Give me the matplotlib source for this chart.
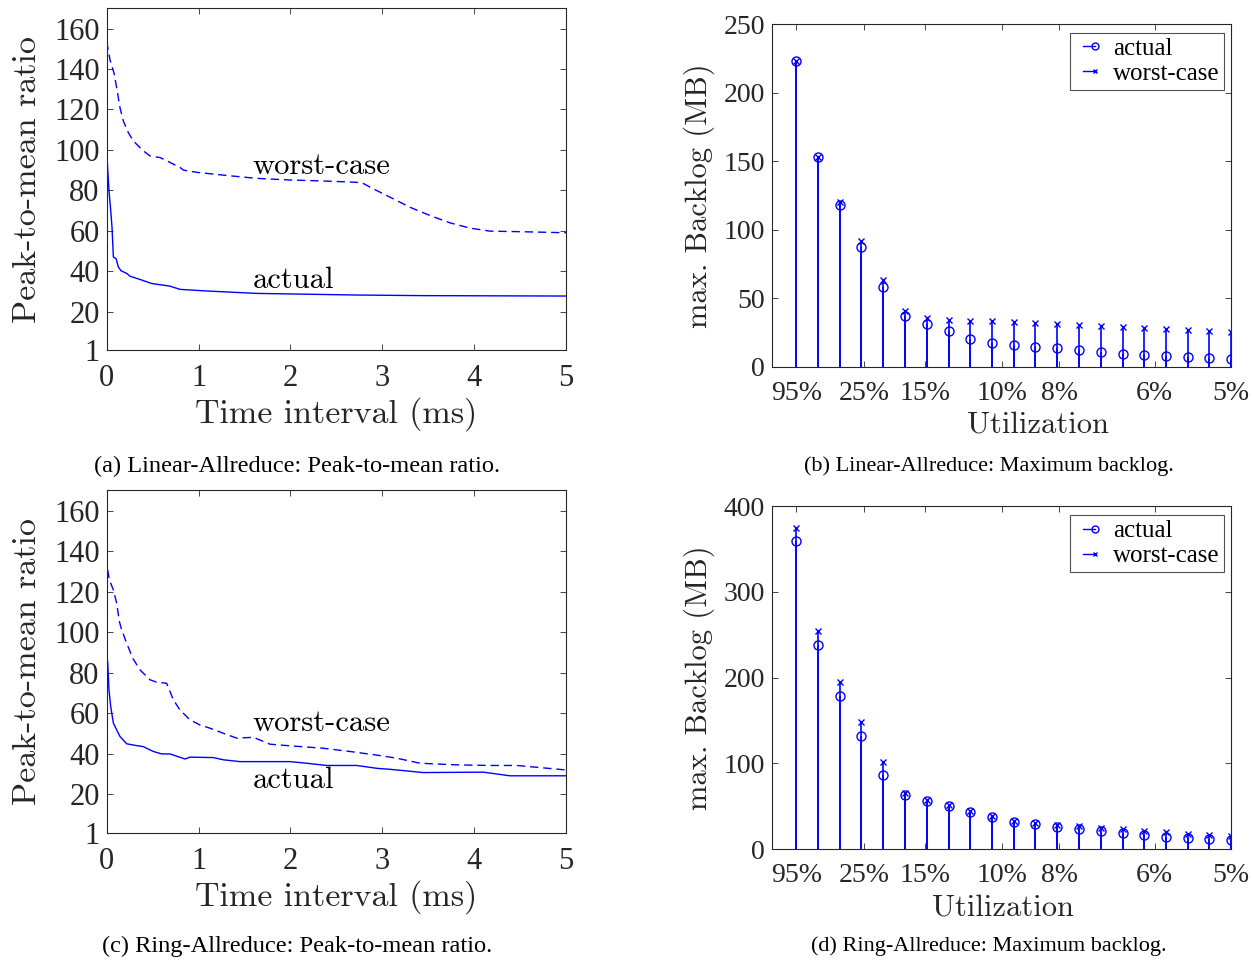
import matplotlib
matplotlib.use("Agg")
import matplotlib.pyplot as plt
import numpy as np
from matplotlib.lines import Line2D
from matplotlib.legend_handler import HandlerLine2D

plt.rcParams['font.family'] = ['Liberation Serif', 'DejaVu Serif']

# ---- peak-to-mean ratio, Linear-Allreduce
lin_worst_t = [0.0, 0.036, 0.08, 0.109, 0.145, 0.181, 0.236, 0.29, 0.399, 0.472, 0.581, 0.689,
               0.798, 0.835, 0.98, 1.27, 1.633, 1.996, 2.359, 2.649, 2.776, 2.903, 3.084, 3.302,
               3.52, 3.737, 3.955, 4.173, 4.536, 5.0]
lin_worst_v = [153.6, 144.6, 138, 130.7, 120.8, 114.3, 108.5, 104.4, 99.5, 97, 96.2, 93.8,
               91.3, 90, 88.9, 87.5, 85.9, 85.1, 84.6, 84.1, 83.8, 80.7, 76.6, 71.6,
               67.5, 63.9, 61.3, 59.8, 59.5, 59.0]
lin_actual_t = [0.007, 0.025, 0.044, 0.058, 0.073, 0.102, 0.127, 0.156, 0.218, 0.254, 0.363,
                0.49, 0.689, 0.798, 1.089, 1.633, 2.721, 3.447, 5.0]
lin_actual_v = [93.8, 79.8, 70, 61.8, 47, 46.2, 42.1, 40.2, 38.9, 37.5, 35.9,
                33.9, 32.6, 31, 30.2, 29, 28.2, 27.9, 27.7]

# ---- peak-to-mean ratio, Ring-Allreduce
ring_worst_t = [0.011, 0.029, 0.073, 0.109, 0.138, 0.163, 0.218, 0.283, 0.363, 0.472, 0.544,
                0.653, 0.726, 0.798, 0.907, 1.016, 1.125, 1.27, 1.415, 1.597, 1.778, 1.996,
                2.359, 2.649, 2.975, 3.157, 3.411, 3.81, 4.173, 4.463, 5.0]
ring_worst_v = [130.8, 125.8, 120.9, 114.3, 105.3, 101.2, 94.6, 87.2, 81.4, 76.5, 75.3,
                74.8, 66.6, 61.6, 56.7, 54.2, 52.6, 50.1, 47.7, 48.1, 44.7, 43.9,
                42.7, 41.1, 39.1, 37.8, 35.3, 34.5, 34.2, 34.2, 32.0]
ring_actual_t = [0.011, 0.025, 0.044, 0.073, 0.145, 0.218, 0.327, 0.399, 0.508, 0.599, 0.689,
                 0.853, 0.907, 1.161, 1.27, 1.451, 1.996, 2.177, 2.395, 2.721, 2.939, 3.084,
                 3.447, 4.1, 4.39, 5.0]
ring_actual_v = [85.5, 71.5, 63.3, 55.1, 48.5, 44.9, 44.0, 43.5, 41.1, 39.9, 39.9,
                 37.4, 38.3, 38.1, 37.0, 36.1, 36.1, 35.3, 34.2, 34.2, 32.8, 32.3,
                 30.7, 30.9, 29.1, 29.1]

# ---- maximum backlog vs utilization
utilization = [0.95, 0.5, 0.3393, 0.2568, 0.2065, 0.1727, 0.1484, 0.1301, 0.1159, 0.1044,
               0.0950, 0.0872, 0.0805, 0.0748, 0.0699, 0.0655, 0.0617, 0.0583, 0.0552,
               0.0525, 0.05]
lin_backlog_actual = [223, 153, 118.2, 87.6, 58.3, 36.7, 31.1, 25.7, 20.4, 17.0, 15.8,
                      14.6, 13.3, 11.9, 10.7, 9.5, 8.3, 7.5, 6.8, 6.1, 5.3]
lin_backlog_worst = [223, 153, 120.1, 91.7, 63.6, 40.3, 35.9, 34.2, 33.7, 33.0, 32.3,
                     31.6, 30.8, 30.3, 29.6, 28.9, 28.2, 27.4, 26.7, 26.2, 25.5]
ring_backlog_actual = [359.1, 238.5, 178.6, 132.3, 86.0, 62.6, 56.4, 50.2, 43.6, 37.4, 31.9,
                       29.2, 26.1, 23.3, 20.6, 18.3, 16.0, 14.4, 13.2, 11.7, 10.5]
ring_backlog_worst = [374.3, 254.5, 194.6, 147.9, 101.2, 65.0, 57.6, 51.0, 44.4, 38.1, 32.7,
                      30.4, 28.4, 26.8, 24.9, 23.0, 21.4, 19.5, 17.9, 16.7, 15.6]
util_ticks = [0.95, 0.25, 0.15, 0.10, 0.08, 0.06, 0.05]
util_ticklabels = ['95%', '25%', '15%', '10%', '8%', '6%', '5%']

ratio_ticks = [1, 20, 40, 60, 80, 100, 120, 140, 160]

BLUE = (0, 0, 1)
GREY = '#262626'
CM = 'cmr10'


class StemLegendHandler(HandlerLine2D):
    # marker only at the right end of the legend line, like MATLAB stem legends
    def create_artists(self, *args, **kwargs):
        artists = super().create_artists(*args, **kwargs)
        for a in artists:
            a.set_markevery([len(a.get_xdata()) - 1])
        return artists


def style_axes(ax, size, xpad):
    for s in ax.spines.values():
        s.set_color(GREY)
        s.set_linewidth(0.8)
    ax.tick_params(direction='in', top=True, right=True, length=4, width=0.6,
                   colors=GREY, labelsize=size, labelcolor=GREY)
    ax.tick_params(axis='x', pad=xpad)
    ax.tick_params(axis='y', pad=5)


def ratio_panel(ax, t_w, v_w, t_a, v_a, worst_xy, actual_xy):
    ax.plot(t_w, v_w, color=BLUE, lw=1.0, ls=(0, (6, 3.5)))
    ax.plot(t_a, v_a, color=BLUE, lw=1.0)
    ax.set_xlim(0, 5)
    ax.set_ylim(1, 170)
    ax.set_yticks(ratio_ticks)
    ax.set_xticks(range(6))
    ax.text(*worst_xy, 'worst-case', fontfamily=CM, fontsize=22, color='black')
    ax.text(*actual_xy, 'actual', fontfamily=CM, fontsize=22, color='black')
    ax.set_xlabel('Time interval (ms)', fontfamily=CM, fontsize=24.5, color=GREY, labelpad=3)
    ax.set_ylabel('Peak-to-mean ratio', fontfamily=CM, fontsize=24.5, color=GREY, labelpad=9)
    style_axes(ax, 22, 10)


def backlog_panel(ax, actual, worst, ymax, xlabel_x):
    x = 1 / np.array(utilization)
    mk, st, bl = ax.stem(x, worst, linefmt='-', markerfmt='x', basefmt=' ')
    plt.setp(st, color=BLUE, lw=1.2)
    plt.setp(mk, color=BLUE, markersize=4, markeredgewidth=1.0)
    mk, st, bl = ax.stem(x, actual, linefmt='-', markerfmt='o', basefmt=' ')
    plt.setp(st, color=BLUE, lw=1.2)
    plt.setp(mk, color=BLUE, markerfacecolor='none', markersize=6.5, markeredgewidth=1.0)
    ax.set_xlim(0, 20)
    ax.set_ylim(0, ymax)
    ax.set_xticks(1 / np.array(util_ticks))
    ax.set_xticklabels(util_ticklabels)
    ax.set_xlabel('Utilization', fontfamily=CM, fontsize=22, color=GREY)
    ax.xaxis.set_label_coords(xlabel_x, -0.13)
    ax.set_ylabel('max. Backlog (MB)', fontfamily=CM, fontsize=22, color=GREY, labelpad=6)
    style_axes(ax, 20, 10)
    handles = [
        Line2D([], [], color=BLUE, lw=1.0, marker='o', markerfacecolor='none', markersize=5),
        Line2D([], [], color=BLUE, lw=1.0, marker='x', markersize=3.5),
    ]
    leg = ax.legend(handles, ['actual', 'worst-case'], loc='upper right', numpoints=2,
                    handler_map={h: StemLegendHandler() for h in handles},
                    fontsize=18, handlelength=1.1, handletextpad=0.4, borderpad=0.2,
                    labelspacing=0.1, fancybox=False, edgecolor=GREY,
                    bbox_to_anchor=(0.985, 0.975), borderaxespad=0)
    leg.get_frame().set_linewidth(0.8)


fig = plt.figure(figsize=(12.52, 9.6), dpi=100)
ax_a = fig.add_axes([0.0852, 0.6354, 0.3669, 0.3559])
ax_b = fig.add_axes([0.6166, 0.6180, 0.3669, 0.3570])
ax_c = fig.add_axes([0.0852, 0.1326, 0.3669, 0.3565])
ax_d = fig.add_axes([0.6166, 0.1156, 0.3669, 0.3570])

ratio_panel(ax_a, lin_worst_t, lin_worst_v, lin_actual_t, lin_actual_v, (1.59, 88), (1.59, 31.5))
ratio_panel(ax_c, ring_worst_t, ring_worst_v, ring_actual_t, ring_actual_v, (1.59, 51.4), (1.59, 23.3))
backlog_panel(ax_b, lin_backlog_actual, lin_backlog_worst, 250, 0.58)
backlog_panel(ax_d, ring_backlog_actual, ring_backlog_worst, 400, 0.502)

caps = [(297, 466, 17.6, '(a) Linear-Allreduce: Peak-to-mean ratio.'),
        (989, 466, 16, '(b) Linear-Allreduce: Maximum backlog.'),
        (297, 946, 17.6, '(c) Ring-Allreduce: Peak-to-mean ratio.'),
        (989, 946, 16, '(d) Ring-Allreduce: Maximum backlog.')]
for cx, cy, size, txt in caps:
    fig.text(cx / 1252, 1 - cy / 960, txt, ha='center', va='center', fontsize=size, color='black')

fig.savefig('out.png', dpi=100)
